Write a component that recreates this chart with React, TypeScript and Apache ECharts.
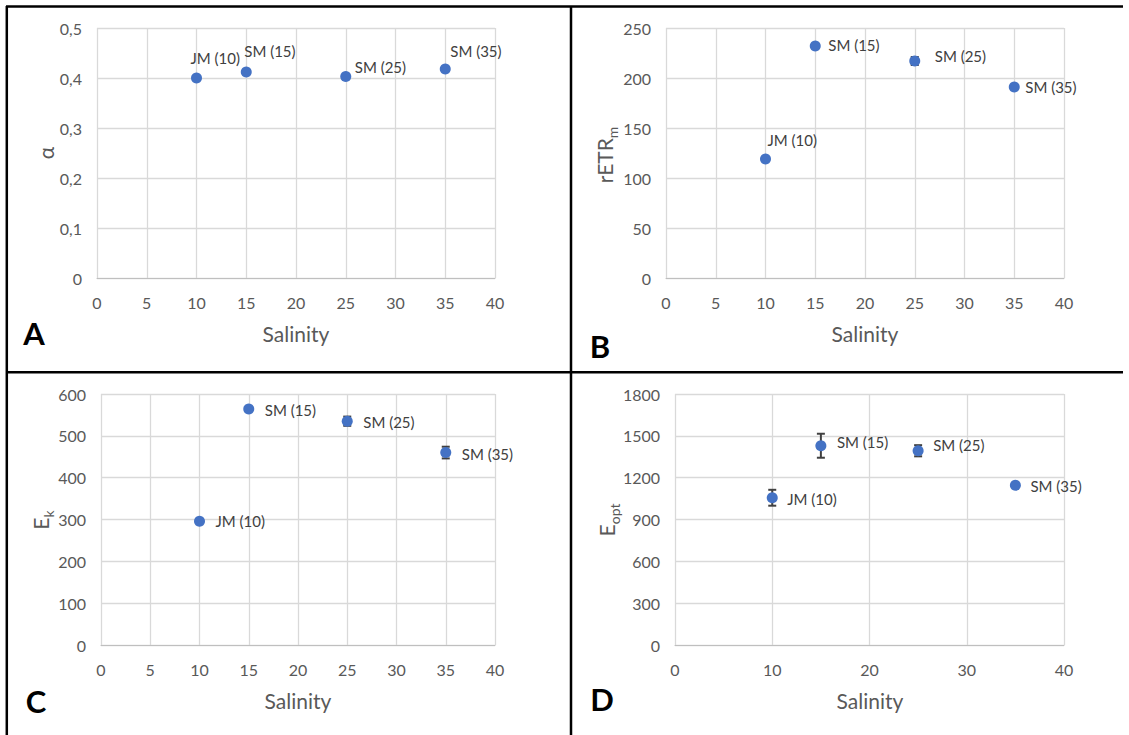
import React, { useEffect, useRef } from "react";
import * as echarts from "echarts";

// ---- data ----
const salinity = [10, 15, 25, 35];
const pointLabels = ["JM (10)", "SM (15)", "SM (25)", "SM (35)"];

const alphaValues = [0.4, 0.412, 0.403, 0.418];
const alphaErr = [0, 0, 0, 0];

const retrValues = [119, 232, 217, 191];
const retrErr = [0, 0, 4, 0];

const ekValues = [296, 564, 535, 460];
const ekErr = [0, 0, 11, 14];

const eoptValues = [1056, 1429, 1393, 1145];
const eoptErr = [57, 86, 40, 0];

const xTicksFine = ["0", "5", "10", "15", "20", "25", "30", "35", "40"];
const xTicksCoarse = ["0", "10", "20", "30", "40"];
const yTicksA = ["0", "0,1", "0,2", "0,3", "0,4", "0,5"];
const yTicksB = ["0", "50", "100", "150", "200", "250"];
const yTicksC = ["0", "100", "200", "300", "400", "500", "600"];
const yTicksD = ["0", "300", "600", "900", "1200", "1500", "1800"];

// label offsets [dx from point centre to label left, dy]
const offA = [[-6, -20], [-2, -21], [9, -10], [5, -18]];
const offB = [[2, -19], [13, -1], [20, -5], [11, 0]];
const offC = [[16, 0], [16, 1], [16, 1], [16, 1]];
const offD = [[15, 1], [16, -4], [15, -6], [15, 1]];

const FONT = "Lato, 'Open Sans', sans-serif";
const BLUE = "#4472C4";
const GRID = "#d9d9d9";

export default function App() {
  const ref = useRef<HTMLDivElement>(null);

  useEffect(() => {
    if (!ref.current) return;
    const chart = echarts.init(ref.current, undefined, { renderer: "svg" });

    const grids = [
      { left: 97, top: 28, width: 398, height: 250 },
      { left: 666, top: 28, width: 398, height: 250 },
      { left: 101, top: 394, width: 394, height: 251 },
      { left: 675, top: 394, width: 389, height: 251 },
    ];

    const xCfg = [
      { interval: 5, ticks: xTicksFine },
      { interval: 5, ticks: xTicksFine },
      { interval: 5, ticks: xTicksFine },
      { interval: 10, ticks: xTicksCoarse },
    ];
    const yCfg = [
      { max: 0.5, interval: 0.1, ticks: yTicksA },
      { max: 250, interval: 50, ticks: yTicksB },
      { max: 600, interval: 100, ticks: yTicksC },
      { max: 1800, interval: 300, ticks: yTicksD },
    ];
    const values = [alphaValues, retrValues, ekValues, eoptValues];
    const errs = [alphaErr, retrErr, ekErr, eoptErr];
    const offs = [offA, offB, offC, offD];

    const xAxis = xCfg.map((c, i) => ({
      type: "value",
      gridIndex: i,
      min: 0,
      max: 40,
      interval: c.interval,
      axisLine: { show: true, lineStyle: { color: "#bfbfbf", width: 1 } },
      axisTick: { show: false },
      splitLine: { show: true, lineStyle: { color: GRID, width: 1.3 } },
      axisLabel: {
        margin: 16,
        color: "#595959",
        fontSize: 16,
        fontFamily: FONT,
        formatter: (v: number) => c.ticks[Math.round(v / c.interval)] ?? String(v),
      },
    }));

    const yAxis = yCfg.map((c, i) => ({
      type: "value",
      gridIndex: i,
      min: 0,
      max: c.max,
      interval: c.interval,
      axisLine: { show: false },
      axisTick: { show: false },
      splitLine: { show: true, lineStyle: { color: GRID, width: 1.3 } },
      axisLabel: {
        margin: 15,
        color: "#595959",
        fontSize: 16,
        fontFamily: FONT,
        formatter: (v: number) => c.ticks[Math.round(v / c.interval)] ?? String(v),
      },
    }));

    const series: any[] = [];
    values.forEach((vals, i) => {
      const err = errs[i];
      series.push({
        type: "custom",
        xAxisIndex: i,
        yAxisIndex: i,
        z: 1,
        data: salinity.map((x, k) => [x, vals[k], err[k]]),
        renderItem: (params: any, api: any) => {
          const x = api.value(0);
          const y = api.value(1);
          const e = api.value(2);
          if (!e) return { type: "group", children: [] };
          const top = api.coord([x, y + e]);
          const bot = api.coord([x, y - e]);
          const st = { stroke: "#404040", lineWidth: 2 };
          return {
            type: "group",
            children: [
              { type: "line", shape: { x1: top[0], y1: top[1], x2: bot[0], y2: bot[1] }, style: st },
              { type: "line", shape: { x1: top[0] - 4, y1: top[1], x2: top[0] + 4, y2: top[1] }, style: st },
              { type: "line", shape: { x1: bot[0] - 4, y1: bot[1], x2: bot[0] + 4, y2: bot[1] }, style: st },
            ],
          };
        },
      });
      series.push({
        type: "scatter",
        xAxisIndex: i,
        yAxisIndex: i,
        z: 3,
        symbol: "circle",
        symbolSize: 11,
        itemStyle: { color: BLUE, opacity: 1 },
        data: salinity.map((x, k) => ({
          value: [x, vals[k]],
          label: {
            show: true,
            position: "right",
            distance: 0,
            offset: [offs[i][k][0] - 5.5, offs[i][k][1]],
            formatter: pointLabels[k],
            color: "#404040",
            fontSize: 15,
            fontFamily: FONT,
          },
        })),
      });
    });

    const lineStyle = { stroke: "#000", lineWidth: 2.5 };
    const titleStyle = { fill: "#595959", fontSize: 21, fontFamily: FONT };
    const letterStyle = { fill: "#000", fontSize: 31, fontWeight: "bold", fontFamily: FONT };

    const rotTitle = (x: number, y: number, text: string, rich: any) => ({
      type: "text",
      x,
      y,
      rotation: Math.PI / 2,
      style: {
        text,
        align: "center",
        verticalAlign: "middle",
        rich,
        ...titleStyle,
      },
    });

    const subRich = {
      n: { fontSize: 21, fill: "#595959", fontFamily: FONT, lineHeight: 24, verticalAlign: "bottom" },
      s: { fontSize: 14, fill: "#595959", fontFamily: FONT, lineHeight: 24, verticalAlign: "bottom", padding: [0, 0, -4, 0] },
    };

    const graphic: any[] = [
      { type: "line", shape: { x1: 6, y1: 6.5, x2: 1123, y2: 6.5 }, style: lineStyle },
      { type: "line", shape: { x1: 6.8, y1: 6, x2: 6.8, y2: 735 }, style: lineStyle },
      { type: "line", shape: { x1: 571, y1: 6, x2: 571, y2: 735 }, style: lineStyle },
      { type: "line", shape: { x1: 6, y1: 372.3, x2: 1123, y2: 372.3 }, style: lineStyle },
      // x-axis titles
      { type: "text", x: 296, y: 333, style: { text: "Salinity", align: "center", verticalAlign: "middle", ...titleStyle } },
      { type: "text", x: 865, y: 333, style: { text: "Salinity", align: "center", verticalAlign: "middle", ...titleStyle } },
      { type: "text", x: 298, y: 700, style: { text: "Salinity", align: "center", verticalAlign: "middle", ...titleStyle } },
      { type: "text", x: 870, y: 700, style: { text: "Salinity", align: "center", verticalAlign: "middle", ...titleStyle } },
      // y-axis titles
      rotTitle(45, 153, "α", undefined),
      rotTitle(603, 155, "{n|rETR}{s|m}", subRich),
      rotTitle(39, 520, "{n|E}{s|k}", subRich),
      rotTitle(605, 520, "{n|E}{s|opt}", subRich),
      // panel letters
      { type: "text", x: 34, y: 333, style: { text: "A", align: "center", verticalAlign: "middle", ...letterStyle } },
      { type: "text", x: 600, y: 346, style: { text: "B", align: "center", verticalAlign: "middle", ...letterStyle } },
      { type: "text", x: 36, y: 701, style: { text: "C", align: "center", verticalAlign: "middle", ...letterStyle } },
      { type: "text", x: 602, y: 699, style: { text: "D", align: "center", verticalAlign: "middle", ...letterStyle } },
    ];

    chart.setOption({
      animation: false,
      backgroundColor: "#fff",
      grid: grids,
      xAxis,
      yAxis,
      series,
      graphic,
    });

    return () => chart.dispose();
  }, []);

  return (
    <div
      ref={ref}
      style={{ position: "absolute", left: 0, top: 0, width: 1129, height: 735, background: "#fff" }}
    />
  );
}
